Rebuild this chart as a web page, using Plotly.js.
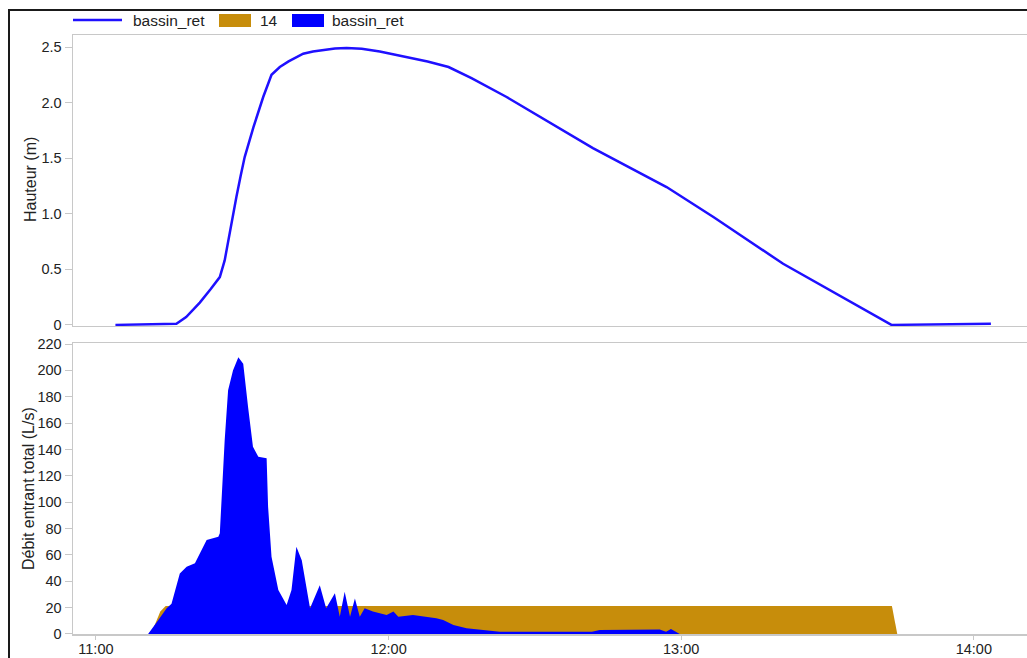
<!DOCTYPE html>
<html>
<head>
<meta charset="utf-8">
<script src="https://cdn.plot.ly/plotly-3.0.1.min.js"></script>
<style>
  html, body { margin: 0; padding: 0; background: #fff; overflow: hidden; }
  #frame { position: absolute; left: 8px; top: 9px; width: 1200px; height: 800px;
           border-left: 2px solid #1a1a1a; border-top: 2px solid #1a1a1a; }
  #chart { position: absolute; left: 0; top: 0; width: 1027px; height: 658px; }
</style>
</head>
<body>
<div id="frame"></div>
<div id="chart"></div>
<script>
// Water height in the retention basin (m)
const heightTimes = ['11:04:00','11:16:30','11:18:30','11:21:18','11:23:30','11:25:24','11:26:24','11:27:30',
  '11:28:48','11:29:40','11:30:30','11:32:18','11:34:18','11:36:00','11:37:42','11:39:30','11:42:30',
  '11:44:30','11:46:36','11:49:00','11:51:24','11:54:30','11:58:12','12:04:24','12:08:00','12:12:18',
  '12:17:00','12:24:12','12:41:54','12:57:00','13:06:36','13:20:54','13:43:06','14:03:30'];
const heightValues = [0, 0.01, 0.07, 0.2, 0.32, 0.43, 0.58, 0.85,
  1.15, 1.34, 1.51, 1.78, 2.05, 2.25, 2.32, 2.37, 2.44,
  2.46, 2.475, 2.487, 2.49, 2.485, 2.46, 2.40, 2.37, 2.32,
  2.22, 2.05, 1.59, 1.24, 0.97, 0.55, 0.0, 0.01];

// Total inflow "14" (L/s)
const inflow14Times = ['11:11:18','11:13:12','11:14:18','13:43:12','13:44:18'];
const inflow14Values = [0, 17, 21.2, 21.2, 0];

// Total inflow bassin_ret (L/s)
const inflowTimes = ['11:10:42','11:12:48','11:14:30','11:15:30','11:17:12','11:18:36','11:20:18','11:22:42',
  '11:25:06','11:25:24','11:26:24','11:27:06','11:28:06','11:29:12','11:30:12','11:31:12','11:32:12',
  '11:33:18','11:35:00','11:35:18','11:36:00','11:37:24','11:39:06','11:40:06','11:41:06','11:42:12',
  '11:43:54','11:45:54','11:47:12','11:49:00','11:50:00','11:51:00','11:52:06','11:53:06','11:54:06',
  '11:55:06','11:56:48','11:59:36','12:01:00','12:02:00','12:05:00','12:09:48','12:11:12','12:13:18',
  '12:16:00','12:22:48','12:41:42','12:43:18','12:55:36','12:56:54','12:57:54','12:59:42'];
const inflowValues = [0, 10.6, 19.5, 23, 46, 51, 53.6, 71.3,
  73.8, 76.4, 147, 185, 200, 210, 205, 172, 142,
  134.5, 133.3, 96.6, 58.7, 33.4, 22, 33.4, 66.2, 56,
  19.5, 37, 19.5, 30.9, 13, 32, 13, 27, 13,
  19.5, 17, 14.4, 17, 13, 14.4, 12, 10.6, 6.8,
  4.3, 1.7, 1.7, 3, 3.5, 1.7, 3.8, 0];

// Tick labels
const heightTickVals = [0, 0.5, 1.0, 1.5, 2.0, 2.5];
const heightTickText = ['0', '0.5', '1.0', '1.5', '2.0', '2.5'];

// Legend entries (names)
const legendNames = ['bassin_ret', '14', 'bassin_ret'];

// Axis titles
const yTitleTop = 'Hauteur (m)';
const yTitleBottom = 'Débit entrant total (L/s)';

const day = '2000-01-01 ';
const toDate = arr => arr.map(t => day + t);

const FONT = 'Liberation Sans, Arial, sans-serif';
const BLUE = '#1f10ff';
const GOLD = '#c78d0b';
const FILLBLUE = '#0000ff';

const traces = [
  { x: toDate(heightTimes), y: heightValues, type: 'scatter', mode: 'lines',
    name: legendNames[0], line: { color: BLUE, width: 2.5 },
    xaxis: 'x', yaxis: 'y' },
  { x: toDate(inflow14Times), y: inflow14Values, type: 'scatter', mode: 'none',
    fill: 'tozeroy', fillcolor: GOLD, name: legendNames[1], xaxis: 'x2', yaxis: 'y2' },
  { x: toDate(inflowTimes), y: inflowValues, type: 'scatter', mode: 'none',
    fill: 'tozeroy', fillcolor: FILLBLUE, name: legendNames[2], xaxis: 'x2', yaxis: 'y2' }
];

const xRange = [day + '10:55:18', day + '14:10:54'];
const axisLine = '#c8c8c8';
const commonX = {
  type: 'date', range: xRange, showgrid: false, zeroline: false,
  showline: true, linecolor: axisLine, linewidth: 1.5, mirror: true,
  tick0: day + '11:00:00', dtick: 3600000, tickformat: '%H:%M'
};

// helpers to place the hand-made legend & titles (pixel -> paper)
const L = 73, PW = 954, BOT = 634, PH = 599;
const px = v => (v - L) / PW;
const py = v => (BOT - v) / PH;

const shapes = [
  { type: 'line', xref: 'paper', yref: 'paper', x0: px(73), x1: px(122), y0: py(20), y1: py(20),
    line: { color: BLUE, width: 2.5 } },
  { type: 'rect', xref: 'paper', yref: 'paper', x0: px(219), x1: px(251), y0: py(27), y1: py(14),
    fillcolor: GOLD, line: { width: 0 } },
  { type: 'rect', xref: 'paper', yref: 'paper', x0: px(292), x1: px(324), y0: py(27), y1: py(14),
    fillcolor: FILLBLUE, line: { width: 0 } }
];

const legFont = { family: FONT, size: 15.5, color: '#222' };
const titleFont = { family: FONT, size: 16, color: '#222' };
const annotations = [
  { text: legendNames[0], xref: 'paper', yref: 'paper', x: px(131), y: py(20), xanchor: 'left', yanchor: 'middle', showarrow: false, font: legFont },
  { text: legendNames[1], xref: 'paper', yref: 'paper', x: px(258), y: py(20), xanchor: 'left', yanchor: 'middle', showarrow: false, font: legFont },
  { text: legendNames[2], xref: 'paper', yref: 'paper', x: px(330), y: py(20), xanchor: 'left', yanchor: 'middle', showarrow: false, font: legFont },
  { text: yTitleTop, xref: 'paper', yref: 'paper', x: px(30), y: py(180), xanchor: 'center', yanchor: 'middle', textangle: -90, showarrow: false, font: titleFont },
  { text: yTitleBottom, xref: 'paper', yref: 'paper', x: px(28), y: py(489), xanchor: 'center', yanchor: 'middle', textangle: -90, showarrow: false, font: titleFont }
];

const layout = {
  width: 1027, height: 658,
  margin: { l: 73, r: 0, t: 35, b: 24 },
  paper_bgcolor: 'rgba(0,0,0,0)', plot_bgcolor: 'rgba(0,0,0,0)',
  font: { family: FONT, size: 14.5, color: '#222' },
  showlegend: false,
  shapes: shapes,
  annotations: annotations,
  xaxis: Object.assign({}, commonX, { domain: [0, 1], anchor: 'y', ticks: '', showticklabels: false }),
  xaxis2: Object.assign({}, commonX, { domain: [0, 1], anchor: 'y2', matches: 'x',
            ticks: 'outside', ticklen: 4, tickcolor: axisLine, showticklabels: true, ticklabelstandoff: -3 }),
  yaxis: { domain: [0.5142, 1], range: [-0.01, 2.608], tickmode: 'array',
           tickvals: heightTickVals, ticktext: heightTickText,
           showgrid: false, zeroline: false, showline: true, linecolor: axisLine, linewidth: 1.5,
           ticks: 'outside', ticklen: 7, tickcolor: axisLine },
  yaxis2: { domain: [0, 0.4858], range: [0, 220.8], dtick: 20, tick0: 0,
           showgrid: false, zeroline: false, showline: true, linecolor: axisLine, linewidth: 1.5,
           ticks: 'outside', ticklen: 7, tickcolor: axisLine }
};

Plotly.newPlot('chart', traces, layout, { displayModeBar: false, staticPlot: true });
</script>
</body>
</html>
